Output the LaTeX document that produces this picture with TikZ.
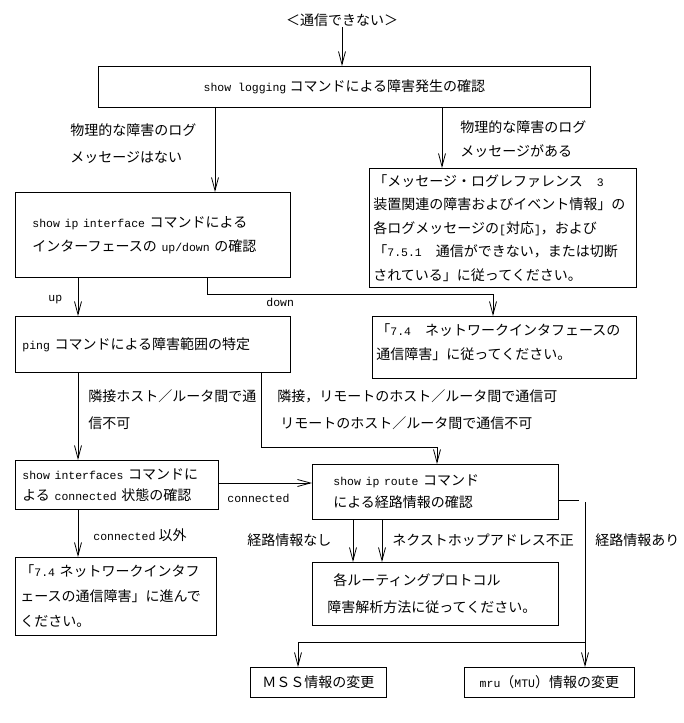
\documentclass[tikz,border=0pt]{standalone}
\usepackage{fontspec}
\setmainfont{Noto Sans CJK JP}
\newfontfamily\asc{Liberation Mono}[Scale=0.82]
\usetikzlibrary{arrows.meta}
\newcommand\A[1]{{\asc #1}}
\begin{document}
\begin{tikzpicture}[x=1pt,y=-1pt, line width=0.8pt,
  arr/.style={-{Straight Barb[length=13pt,width=7pt]}},
  box/.style={draw, anchor=north west, align=left, inner ysep=0pt},
  cbox/.style={draw, anchor=north west, align=center, inner sep=0pt},
  lbl/.style={anchor=west, inner sep=0pt, align=left},
  every node/.style={font=\fontsize{14pt}{24pt}\selectfont},
]
\useasboundingbox (0,0) rectangle (683,723);

% title
\node[inner sep=0pt] (t) at (342,20) {＜通信できない＞};

% boxes
\node[cbox, minimum width=492pt, minimum height=41pt] (b1) at (98,66)
  {\A{show logging} コマンドによる障害発生の確認};
\node[box, minimum width=267pt, minimum height=119pt, inner xsep=4pt, text width=259pt,
  font=\fontsize{14pt}{23.5pt}\selectfont] (b3) at (369,168)
  {「メッセージ・ログレファレンス　\A{3}\\
   装置関連の障害およびイベント情報」の\\
   各ログメッセージの\A{[}対応\A{]}，および\\
   「\A{7.5.1}　通信ができない，または切断\\
   されている」に従ってください。};
\node[box, minimum width=275pt, minimum height=85pt, inner xsep=17pt, text width=241pt] (b2) at (15,192)
  {\A{show ip interface} コマンドによる\\
   インターフェースの \A{up/down} の確認};
\node[box, minimum width=275pt, minimum height=56pt, inner xsep=7pt, text width=261pt] (b4) at (15,316)
  {\A{ping} コマンドによる障害範囲の特定};
\node[box, minimum width=264pt, minimum height=62pt, inner xsep=4pt, text width=256pt] (b5) at (372,316)
  {「\A{7.4}　ネットワークインタフェースの\\
   通信障害」に従ってください。\rule[-11pt]{0pt}{0pt}};
\node[box, minimum width=203pt, minimum height=49pt, inner xsep=7pt, text width=189pt,
  font=\fontsize{14pt}{21pt}\selectfont] (b6) at (15,460)
  {\A{show interfaces} コマンドに\\
   よる \A{connected} 状態の確認};
\node[box, minimum width=201pt, minimum height=78pt, inner xsep=5pt, text width=191pt,
  font=\fontsize{14pt}{25pt}\selectfont] (b8) at (15,557)
  {「\A{7.4} ネットワークインタフ\\
   ェースの通信障害」に進んで\\
   ください。};
\node[box, minimum width=246pt, minimum height=55pt, inner xsep=21pt, text width=204pt,
  font=\fontsize{14pt}{22pt}\selectfont] (b7) at (312,464)
  {\A{show ip route} コマンド\\
   による経路情報の確認};
\node[box, minimum width=246pt, minimum height=63pt, inner xsep=15pt, text width=216pt,
  font=\fontsize{14pt}{27pt}\selectfont] (b9) at (312,562)
  {\hspace*{6pt}各ルーティングプロトコル\\
   障害解析方法に従ってください。};
\node[cbox, minimum width=136pt, minimum height=30pt] (b10) at (250,667) {ＭＳＳ情報の変更};
\node[cbox, minimum width=170pt, minimum height=30pt] (b11) at (464,667) {\A{mru}（\A{MTU}）情報の変更};

% connectors
\draw[arr] (t.south) -- (t.south |- b1.north);
\draw[arr] ([xshift=117pt]b1.south west) -- ([xshift=117pt]b1.south west |- b2.north);
\draw[arr] ([xshift=344pt]b1.south west) -- ([xshift=344pt]b1.south west |- b3.north);
\draw[arr] ([xshift=63pt]b2.south west) -- ([xshift=63pt]b2.south west |- b4.north);
\draw[arr] ([xshift=192pt]b2.south west) -- ++(0,17) -| ([xshift=121pt]b5.north west);
\draw[arr] ([xshift=63pt]b4.south west) -- ([xshift=63pt]b4.south west |- b6.north);
\draw[arr] ([xshift=246pt]b4.south west) -- ++(0,75) -| ([xshift=125pt]b7.north west);
\draw[arr] ([yshift=-23pt]b6.north east) -- ([yshift=-23pt]b6.north east -| b7.west);
\draw[arr] ([xshift=63pt]b6.south west) -- ([xshift=63pt]b6.south west |- b8.north);
\draw[arr] ([xshift=41pt]b7.south west) -- ([xshift=41pt]b7.south west |- b9.north);
\draw[arr] ([xshift=70pt]b7.south west) -- ([xshift=70pt]b7.south west |- b9.north);
\coordinate (s1) at (579,500);
\draw ([yshift=-36pt]b7.north east) -- (s1);
\coordinate (v1) at (585,502);
\coordinate (j) at (585,642);
\draw (v1) -- (j);
\draw[arr] (j) -- (j |- b11.north);
\draw[arr] (j) -- ([xshift=48pt]b10.north west |- j) -- ([xshift=48pt]b10.north west);

% labels
\node[lbl, font=\fontsize{14pt}{27pt}\selectfont] (l1) at (70,143.5) {物理的な障害のログ\\メッセージはない};
\node[lbl] (l2) at (460,139) {物理的な障害のログ\\メッセージがある};
\node[lbl] (lup) at (48,300) {\A{up}};
\node[lbl] (ldown) at (266,302) {\A{down}};
\node[lbl, font=\fontsize{14pt}{27pt}\selectfont] (l3) at (88,409.5) {隣接ホスト／ルータ間で通\\信不可};
\node[lbl] (l4) at (277,396) {隣接，リモートのホスト／ルータ間で通信可};
\node[lbl] (l5) at (280,423) {リモートのホスト／ルータ間で通信不可};
\node[lbl] (lc) at (227,498) {\A{connected}};
\node[lbl] (lc2) at (93,535) {\A{connected} 以外};
\node[lbl] (l6) at (247,540) {経路情報なし};
\node[lbl] (l7) at (392,540) {ネクストホップアドレス不正};
\node[lbl] (l8) at (595,540) {経路情報あり};
\end{tikzpicture}
\end{document}
